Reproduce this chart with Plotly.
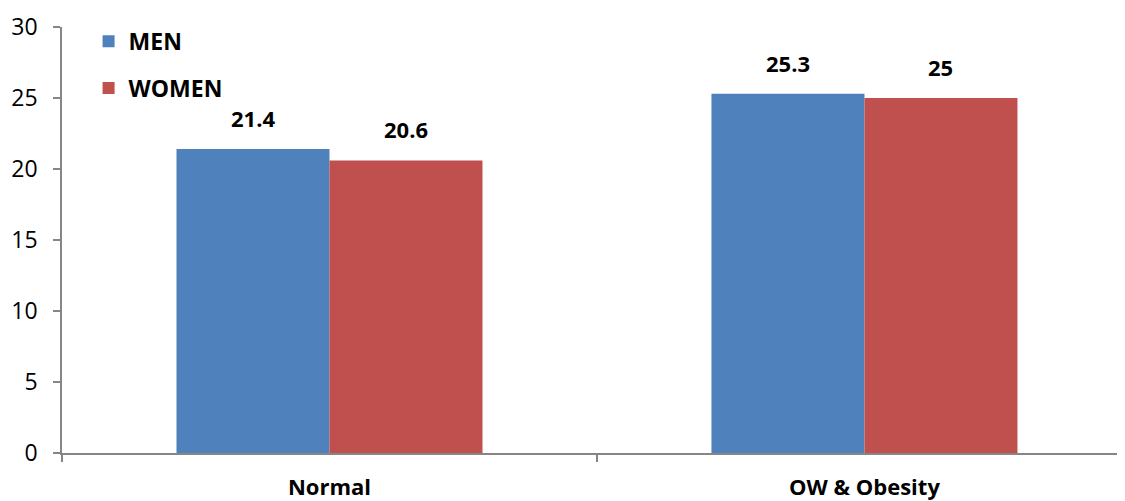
import plotly.graph_objects as go

categories = ["Normal", "OW & Obesity"]
men = [21.4, 25.3]
women = [20.6, 25.0]
men_labels = ["21.4", "25.3"]
women_labels = ["20.6", "25"]
y_ticks = [0, 5, 10, 15, 20, 25, 30]

FONT = "Open Sans"
AXIS = "#868686"
positions = list(range(len(categories)))

fig = go.Figure()
fig.add_trace(go.Bar(
    x=positions, y=men, name="MEN", legendgroup="m",
    marker=dict(color="#4F81BD", line=dict(width=0)),
))
fig.add_trace(go.Bar(
    x=positions, y=women, name="WOMEN", legendgroup="w",
    marker=dict(color="#C0504D", line=dict(width=0)),
))
# empty helper trace so the boundary-tick axis is drawn
fig.add_trace(go.Scatter(x=[], y=[], xaxis="x2", showlegend=False, hoverinfo="skip"))

# value labels above bars (offset by half a bar width in pixels)
half_bar_px = 76.5
for series, labels, side in ((men, men_labels, -1), (women, women_labels, 1)):
    for pos, val, lab in zip(positions, series, labels):
        fig.add_annotation(
            x=pos, y=val, xref="x", yref="y", text=lab, showarrow=False,
            xshift=side * half_bar_px, yshift=14, yanchor="bottom",
            font=dict(family=FONT, size=22, color="black", weight="bold"),
        )

fig.update_layout(
    width=1117, height=493,
    margin=dict(l=54, r=0, t=19, b=48, autoexpand=False),
    paper_bgcolor="white", plot_bgcolor="white",
    barmode="group", bargap=0.428, bargroupgap=0,
    font=dict(family=FONT, color="black"),
    legend=dict(
        x=0.025, y=1.017, xanchor="left", yanchor="top",
        font=dict(family=FONT, size=23, color="black", weight="bold"),
        tracegroupgap=14, itemwidth=30, bgcolor="rgba(0,0,0,0)",
    ),
    xaxis=dict(
        range=[-0.5, 1.487], showgrid=False, zeroline=False, automargin=False,
        showline=True, linecolor=AXIS, linewidth=1.5,
        tickvals=positions, ticktext=categories, ticks="",
        tickfont=dict(family=FONT, size=22, color="black", weight="bold"),
        ticklabelstandoff=14,
    ),
    xaxis2=dict(
        overlaying="x", anchor="y", side="bottom",
        range=[-0.5, 1.487], showgrid=False, zeroline=False, automargin=False,
        showline=False, tickvals=[-0.5, 0.5], showticklabels=False,
        ticks="outside", ticklen=8, tickcolor=AXIS, tickwidth=1.5,
    ),
    yaxis=dict(
        range=[0, 30], tickvals=y_ticks, showgrid=False, zeroline=False, automargin=False,
        showline=True, linecolor=AXIS, linewidth=1.5,
        ticks="outside", ticklen=7, tickcolor=AXIS, tickwidth=1.5,
        tickfont=dict(family=FONT, size=23, color="black"),
        ticklabelstandoff=11,
    ),
)

fig.write_html("out.html")
